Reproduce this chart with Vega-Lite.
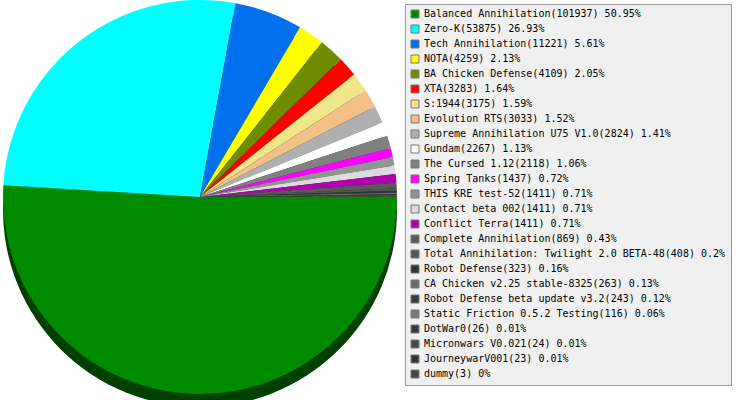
{
  "$schema": "https://vega.github.io/schema/vega-lite/v6.json",
  "width": 400,
  "height": 386,
  "padding": {"left": 0, "top": 0, "right": 0, "bottom": 14},
  "background": "white",
  "data": {
    "values": [
      {"rank": 1, "label": "Balanced Annihilation(101937) 50.95%", "count": 101937},
      {"rank": 2, "label": "Zero-K(53875) 26.93%", "count": 53875},
      {"rank": 3, "label": "Tech Annihilation(11221) 5.61%", "count": 11221},
      {"rank": 4, "label": "NOTA(4259) 2.13%", "count": 4259},
      {"rank": 5, "label": "BA Chicken Defense(4109) 2.05%", "count": 4109},
      {"rank": 6, "label": "XTA(3283) 1.64%", "count": 3283},
      {"rank": 7, "label": "S:1944(3175) 1.59%", "count": 3175},
      {"rank": 8, "label": "Evolution RTS(3033) 1.52%", "count": 3033},
      {"rank": 9, "label": "Supreme Annihilation U75 V1.0(2824) 1.41%", "count": 2824},
      {"rank": 10, "label": "Gundam(2267) 1.13%", "count": 2267},
      {"rank": 11, "label": "The Cursed 1.12(2118) 1.06%", "count": 2118},
      {"rank": 12, "label": "Spring Tanks(1437) 0.72%", "count": 1437},
      {"rank": 13, "label": "THIS KRE test-52(1411) 0.71%", "count": 1411},
      {"rank": 14, "label": "Contact beta 002(1411) 0.71%", "count": 1411},
      {"rank": 15, "label": "Conflict Terra(1411) 0.71%", "count": 1411},
      {"rank": 16, "label": "Complete Annihilation(869) 0.43%", "count": 869},
      {"rank": 17, "label": "Total Annihilation: Twilight 2.0 BETA-48(408) 0.2%", "count": 408},
      {"rank": 18, "label": "Robot Defense(323) 0.16%", "count": 323},
      {"rank": 19, "label": "CA Chicken v2.25 stable-8325(263) 0.13%", "count": 263},
      {"rank": 20, "label": "Robot Defense beta update v3.2(243) 0.12%", "count": 243},
      {"rank": 21, "label": "Static Friction 0.5.2 Testing(116) 0.06%", "count": 116},
      {"rank": 22, "label": "DotWar0(26) 0.01%", "count": 26},
      {"rank": 23, "label": "Micronwars V0.021(24) 0.01%", "count": 24},
      {"rank": 24, "label": "JourneywarV001(23) 0.01%", "count": 23},
      {"rank": 25, "label": "dummy(3) 0%", "count": 3}
    ]
  },
  "encoding": {
    "theta": {
      "field": "count",
      "type": "quantitative",
      "stack": true,
      "scale": {"range": [1.5707963, 7.8539816]}
    },
    "order": {"field": "rank", "type": "quantitative"}
  },
  "layer": [
    {
      "mark": {"type": "arc", "outerRadius": 197, "yOffset": 13, "color": "#004000"}
    },
    {
      "mark": {"type": "arc", "outerRadius": 197},
      "encoding": {
        "color": {
          "field": "label",
          "type": "nominal",
          "scale": {
            "domain": [
              "Balanced Annihilation(101937) 50.95%",
              "Zero-K(53875) 26.93%",
              "Tech Annihilation(11221) 5.61%",
              "NOTA(4259) 2.13%",
              "BA Chicken Defense(4109) 2.05%",
              "XTA(3283) 1.64%",
              "S:1944(3175) 1.59%",
              "Evolution RTS(3033) 1.52%",
              "Supreme Annihilation U75 V1.0(2824) 1.41%",
              "Gundam(2267) 1.13%",
              "The Cursed 1.12(2118) 1.06%",
              "Spring Tanks(1437) 0.72%",
              "THIS KRE test-52(1411) 0.71%",
              "Contact beta 002(1411) 0.71%",
              "Conflict Terra(1411) 0.71%",
              "Complete Annihilation(869) 0.43%",
              "Total Annihilation: Twilight 2.0 BETA-48(408) 0.2%",
              "Robot Defense(323) 0.16%",
              "CA Chicken v2.25 stable-8325(263) 0.13%",
              "Robot Defense beta update v3.2(243) 0.12%",
              "Static Friction 0.5.2 Testing(116) 0.06%",
              "DotWar0(26) 0.01%",
              "Micronwars V0.021(24) 0.01%",
              "JourneywarV001(23) 0.01%",
              "dummy(3) 0%"
            ],
            "range": [
              "#008a00", "#00ffff", "#0070ee", "#ffff00", "#6f8c00",
              "#ff0000", "#f0e68c", "#f4c088", "#b0b0b0", "#ffffff",
              "#808080", "#ff00ff", "#939393", "#dcdcdc", "#b000b0",
              "#5a5a5a", "#555555", "#333333", "#6b6b6b", "#3c3c3c",
              "#7a7a7a", "#3a3a3a", "#4a4a4a", "#353535", "#444444"
            ]
          },
          "legend": {
            "title": null,
            "orient": "right",
            "offset": 5,
            "padding": 5,
            "fillColor": "#f0f0f0",
            "strokeColor": "#999999",
            "symbolType": "square",
            "symbolSize": 64,
            "symbolStrokeColor": "#777777",
            "symbolStrokeWidth": 1,
            "symbolOpacity": 1,
            "labelFont": "DejaVu Sans Mono",
            "labelFontSize": 10,
            "labelColor": "#000000",
            "labelOffset": 4,
            "labelLimit": 400,
            "labelExpr": "datum.label + '\u00a0\u00a0'",
            "rowPadding": 3,
            "symbolLimit": 30
          }
        }
      }
    }
  ],
  "config": {"view": {"stroke": null}}
}
